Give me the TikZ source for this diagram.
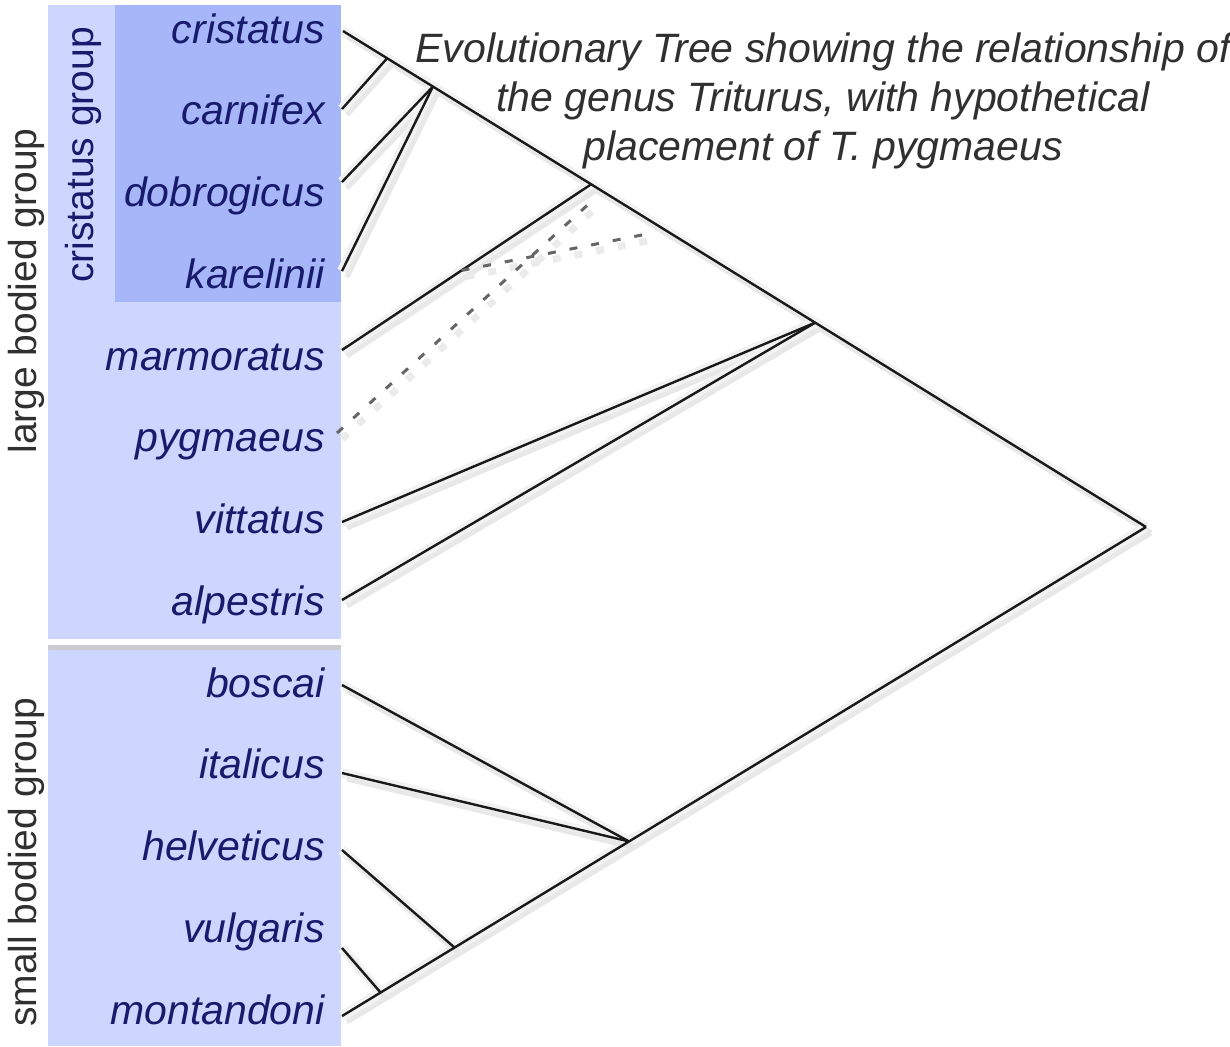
\documentclass[tikz,border=0pt]{standalone}
\usepackage{fontspec}
\setmainfont{Liberation Sans}
\usepackage{xcolor}
\usepackage{tikz}
\usetikzlibrary{calc}
\definecolor{paleblue}{RGB}{204,214,255}
\definecolor{midblue}{RGB}{166,182,248}
\definecolor{navytext}{RGB}{24,26,108}
\definecolor{greytext}{RGB}{48,48,48}
\definecolor{edgegrey}{RGB}{204,204,208}

% all tree paths, drawn once for the shadow and once for the lines
\newcommand\treepaths[2]{%
    \draw[#1] (cri-t) -- (root);
    \draw[#1] (car-t) -- (jA);
    \draw[#1] (dob-t) -- (jB);
    \draw[#1] (kar-t) -- (jB);
    \draw[#1] (mar-t) -- (jC);
    \draw[#1] (vit-t) -- (jD);
    \draw[#1] (alp-t) -- (jD);
    \draw[#1] (mon-t) -- (root);
    \draw[#1] (bos-t) -- (jE);
    \draw[#1] (ita-t) -- (jE);
    \draw[#1] (hel-t) -- (jF);
    \draw[#1] (vul-t) -- (jG);
    \draw[#2] (pyg-t) -- (hC);
    \draw[#2] (hM) -- (hT);
}

\begin{document}
\begin{tikzpicture}[
    x=0.5pt, y=-0.5pt,
    species/.style  = {anchor=base east, inner sep=0pt, text=navytext,
                       font=\fontsize{20.5}{24}\selectfont\itshape},
    grouplbl/.style = {anchor=base, rotate=90, inner sep=0pt,
                       font=\fontsize{19.5}{23}\selectfont},
    title/.style    = {anchor=north, inner sep=0pt, align=center, text=greytext,
                       font=\fontsize{20.5}{24.5}\selectfont\itshape},
    shade/.style    = {draw=black!9, line width=2.5pt,
                       transform canvas={shift={(2.5pt,-3pt)}},
                       preaction={draw=black!5, line width=5pt}},
    hypshade/.style = {draw=black!8, line width=3.5pt, dash pattern=on 4pt off 7pt,
                       transform canvas={shift={(2.5pt,-3pt)}}},
    branch/.style   = {draw=black!90, line width=1.2pt},
    hypo/.style     = {draw=black!60, line width=1.5pt, dash pattern=on 4pt off 7pt}
  ]
    \useasboundingbox (0,0) rectangle (1230,1046);

    % panels
    \fill[paleblue] (48,5) rectangle (341,639);
    \fill[midblue]  (115,5) rectangle (341,302);
    \fill[edgegrey] (48,645) rectangle (341,650);
    \fill[paleblue] (48,650) rectangle (341,1046);

    % group labels
    \node[grouplbl, text=greytext] (large) at (36,291) {large bodied group};
    \node[grouplbl, text=navytext] (crgrp) at (93,155) {cristatus group};
    \node[grouplbl, text=greytext] (small) at (36,862) {small bodied group};

    % species
    \node[species] (cri) at (325,43)      {cristatus};
    \node[species] (car) at (325,124.75)  {carnifex};
    \node[species] (dob) at (325,206.5)   {dobrogicus};
    \node[species] (kar) at (325,288.25)  {karelinii};
    \node[species] (mar) at (325,370)     {marmoratus};
    \node[species] (pyg) at (325,451.75)  {pygmaeus};
    \node[species] (vit) at (325,533.5)   {vittatus};
    \node[species] (alp) at (325,615.25)  {alpestris};
    \node[species] (bos) at (325,697)     {boscai};
    \node[species] (ita) at (325,778.75)  {italicus};
    \node[species] (hel) at (325,860.5)   {helveticus};
    \node[species] (vul) at (325,942.25)  {vulgaris};
    \node[species] (mon) at (325,1024)    {montandoni};

    \node[title] (head) at (823,32)
      {Evolutionary Tree showing the relationship of\\
       the genus Triturus, with hypothetical\\
       placement of T. pygmaeus};

    % tips and junctions
    \coordinate (cri-t) at (343,31);
    \coordinate (car-t) at (342,109);
    \coordinate (dob-t) at (342,182);
    \coordinate (kar-t) at (342,271);
    \coordinate (mar-t) at (342,350);
    \coordinate (pyg-t) at (337,433);
    \coordinate (vit-t) at (342,522);
    \coordinate (alp-t) at (342,600);
    \coordinate (bos-t) at (342,685);
    \coordinate (ita-t) at (342,773);
    \coordinate (hel-t) at (342,850);
    \coordinate (vul-t) at (342,948);
    \coordinate (mon-t) at (342,1016);
    \coordinate (root)  at (1146,527);

    \coordinate (jA) at ($(cri-t)!0.055!(root)$);
    \coordinate (jB) at ($(cri-t)!0.112!(root)$);
    \coordinate (jC) at ($(cri-t)!0.309!(root)$);
    \coordinate (jD) at ($(cri-t)!0.588!(root)$);
    \coordinate (jE) at ($(mon-t)!0.357!(root)$);
    \coordinate (jF) at ($(mon-t)!0.140!(root)$);
    \coordinate (jG) at ($(mon-t)!0.048!(root)$);

    % hypothetical pygmaeus placement
    \coordinate (hM) at ($(mar-t)!0.48!(jC)$);
    \coordinate (hC) at (592,201);
    \coordinate (hT) at (652,233);

    % tree: shadows first, then lines
    \treepaths{shade}{hypshade}
    \treepaths{branch}{hypo}
  \end{tikzpicture}
\end{document}
